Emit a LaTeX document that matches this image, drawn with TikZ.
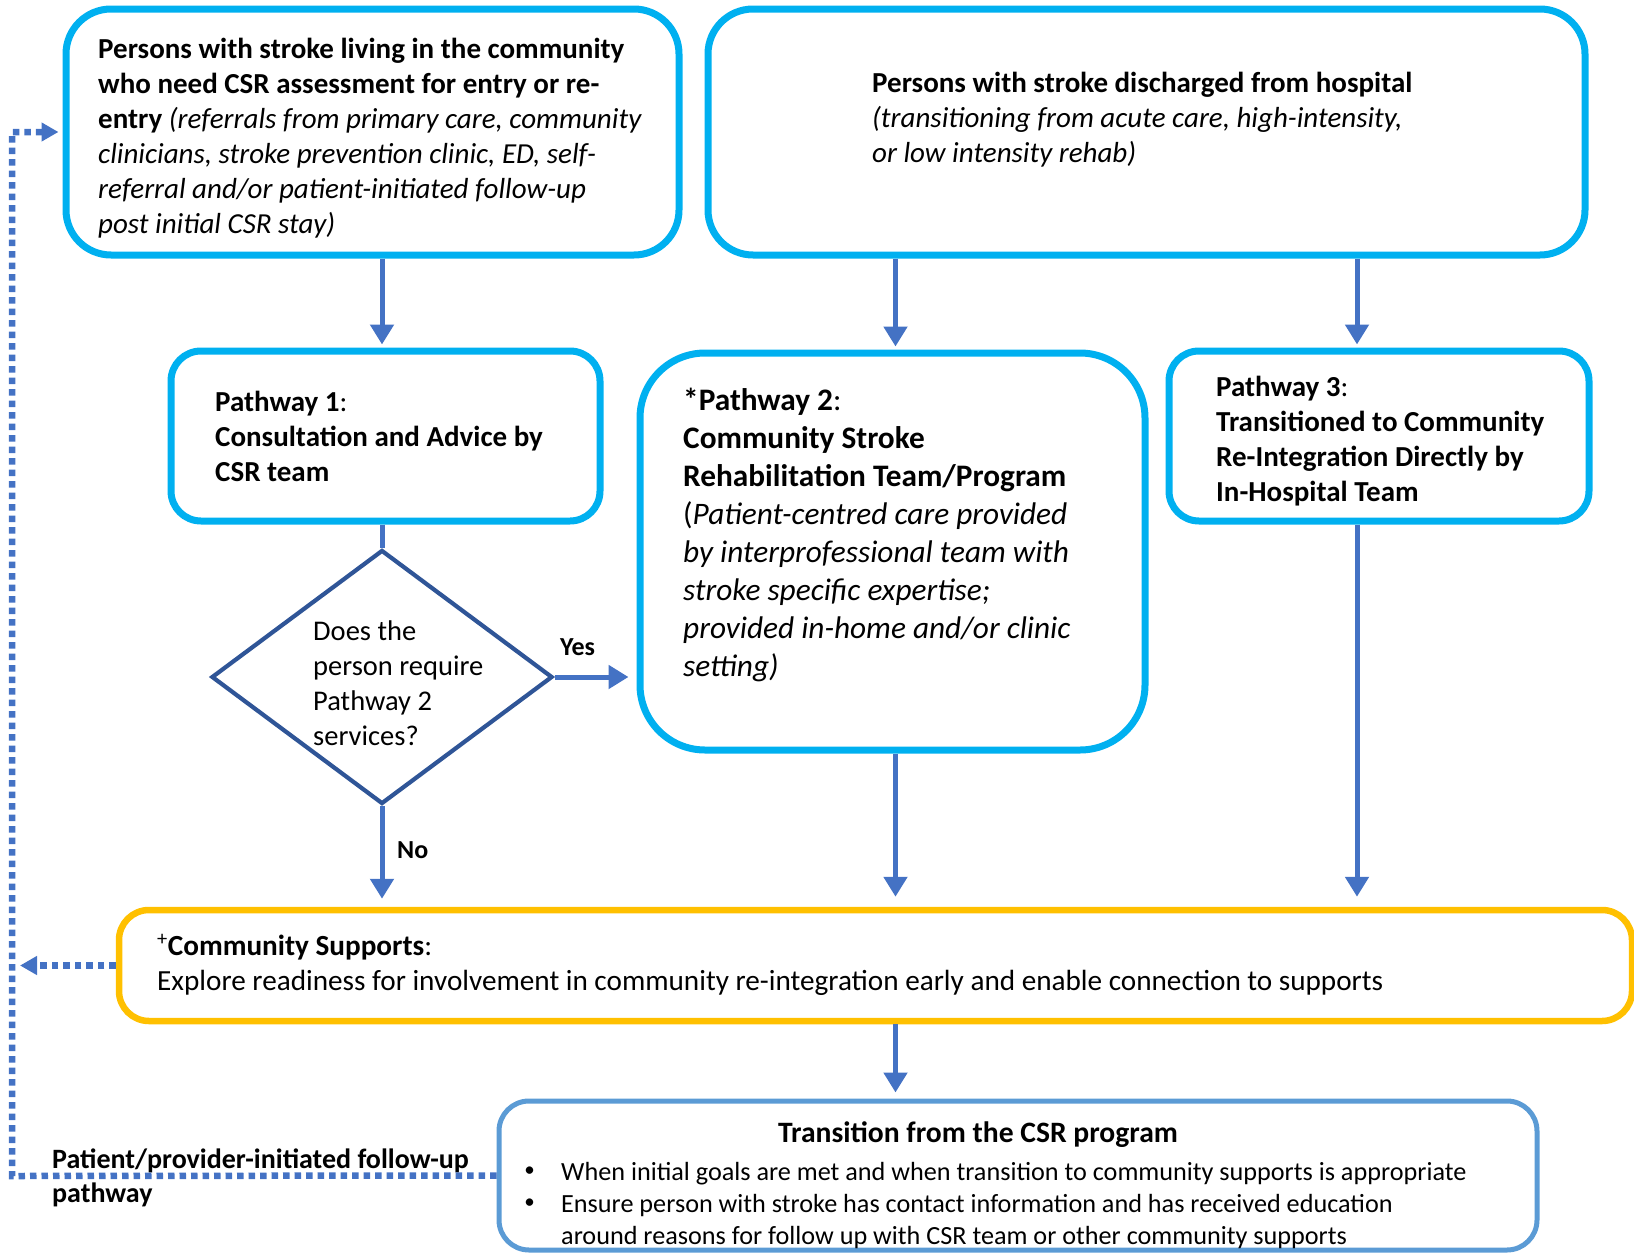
\documentclass[tikz,border=0pt]{standalone}
\usepackage{fontspec}
\setmainfont{Carlito}
\usetikzlibrary{arrows.meta,shapes.geometric}
\definecolor{cyanc}{HTML}{00B0F0}
\definecolor{yellc}{HTML}{FFC000}
\definecolor{trc}{HTML}{5B9BD5}
\definecolor{arrc}{HTML}{4472C4}
\definecolor{dmc}{HTML}{2F5597}
\newcommand{\myfs}[2]{\fontsize{#1}{#2}\selectfont}
\begin{document}
\begin{tikzpicture}[x=1pt,y=-1pt,
  cbox/.style={draw=cyanc, line width=7pt, inner sep=0pt},
  ybox/.style={draw=yellc, line width=6.5pt, inner sep=0pt},
  tbox/.style={draw=trc, line width=5pt, inner sep=0pt},
  arr/.style={draw=arrc, line width=5pt, -{Triangle[width=23pt,length=20pt]}},
  dotarr/.style={draw=arrc, line width=6.5pt, dash pattern=on 6.5pt off 5pt, -{Triangle[width=18pt,length=17pt]}},
  txt/.style={inner sep=0pt, align=left, anchor=base west, font=\myfs{29}{35}},
  lbl/.style={inner sep=0pt, anchor=base west, font=\myfs{26}{30}\bfseries}
]
\useasboundingbox (0,0) rectangle (1634,1253);
% boxes
\node[cbox, minimum width=613pt, minimum height=246pt, rounded corners=45pt] (A) at (372.5,132) {};
\node[cbox, minimum width=877pt, minimum height=246pt, rounded corners=45pt] (B) at (1146.5,132) {};
\node[cbox, minimum width=429pt, minimum height=170pt, rounded corners=30pt] (P1) at (385.5,436) {};
\node[cbox, minimum width=505pt, minimum height=397pt, rounded corners=65pt] (P2) at (892.5,551.5) {};
\node[cbox, minimum width=420pt, minimum height=170pt, rounded corners=30pt] (P3) at (1379,436) {};
\node[draw=dmc, line width=4.2pt, diamond, inner sep=0pt, minimum width=341pt, minimum height=254pt] (dm) at (382,677) {};
\node[ybox, minimum width=1513pt, minimum height=111pt, rounded corners=30pt] (CS) at (875.5,965.5) {};
\node[tbox, minimum width=1038pt, minimum height=149pt, rounded corners=30pt] (TR) at (1018,1175.5) {};
% texts (base anchor = last line baseline)
\node[txt] (tA) at (98,233) {\textbf{Persons with stroke living in the community}\\
\textbf{who need CSR assessment for entry or re-}\\
\textbf{entry} \textit{(referrals from primary care, community}\\
\textit{clinicians, stroke prevention clinic, ED, self-}\\
\textit{referral and/or patient-initiated follow-up}\\
\textit{post initial CSR stay)}};
\node[txt] (tB) at (872,162) {\textbf{Persons with stroke discharged from hospital}\\
\textit{(transitioning from acute care, high-intensity,}\\
\textit{or low intensity rehab)}};
\node[txt] (tP1) at (215,481) {\textbf{Pathway 1}:\\
\textbf{Consultation and Advice by}\\
\textbf{CSR team}};
\node[txt, font=\myfs{31.3}{38}] (tP2) at (683,676) {\textbf{*Pathway 2}:\\
\textbf{Community Stroke}\\
\textbf{Rehabilitation Team/Program}\\
(\textit{Patient-centred care provided}\\
\textit{by interprofessional team with}\\
\textit{stroke specific expertise;}\\
\textit{provided in-home and/or clinic}\\
\textit{setting)}};
\node[txt] (tP3) at (1216,501) {\textbf{Pathway 3}:\\
\textbf{Transitioned to Community}\\
\textbf{Re-Integration Directly by}\\
\textbf{In-Hospital Team}};
\node[txt, font=\myfs{28.5}{35}] (tdm) at (313,745) {Does the\\ person require\\ Pathway 2\\ services?};
\node[txt, font=\myfs{29.2}{35}] (tCS) at (157,990) {\textsuperscript{+}\textbf{Community Supports}:\\
Explore readiness for involvement in community re-integration early and enable connection to supports};
\node[inner sep=0pt, anchor=base, font=\myfs{29.6}{32}\bfseries] (tTR) at (978,1142) {Transition from the CSR program};
\node[inner sep=0pt, anchor=center, font=\myfs{21}{32}] (b1) at (529.5,1172) {\textbullet};
\node[inner sep=0pt, anchor=center, font=\myfs{21}{32}] (b2) at (529.5,1204) {\textbullet};
\node[txt, font=\myfs{26.2}{32}] (tTR2) at (561,1244) {When initial goals are met and when transition to community supports is appropriate\\
Ensure person with stroke has contact information and has received education\\
around reasons for follow up with CSR team or other community supports};
\node[txt, font=\myfs{28}{34}\bfseries] (tfu) at (52,1202) {Patient/provider-initiated follow-up\\pathway};
\node[lbl] (yes) at (560,655) {Yes};
\node[lbl] (no) at (397,858) {No};
% connectors
\coordinate (p3x) at ([xshift=-22pt]P3.north);
\coordinate (p2x) at ([xshift=3pt]P2.north);
\draw[arr, shorten >=3pt] (A.south -| dm.north) -- (P1.north -| dm.north);
\draw[arr, shorten >=3pt] (B.south -| p2x) -- (p2x);
\draw[arr, shorten >=3pt] (B.south -| p3x) -- (p3x);
\draw[draw=arrc, line width=5pt] (P1.south -| dm.north) -- (dm.north);
\draw[arr, shorten >=8pt] (dm.east) -- (dm.east -| P2.west);
\draw[arr, shorten >=8pt] (dm.south) -- (dm.south |- CS.north);
\draw[arr, shorten >=10pt] (p2x |- P2.south) -- (p2x |- CS.north);
\draw[arr, shorten >=10pt] (p3x |- P3.south) -- (p3x |- CS.north);
\draw[arr, shorten >=6pt] (p2x |- CS.south) -- (p2x |- TR.north);
\coordinate (lc) at (12,1176);
\coordinate (uc) at (12,132);
\coordinate (cse) at (20,965.5);
\draw[dotarr, shorten >=4pt] (TR.west) -- (lc) -- (uc) -- (A.west);
\draw[dotarr] (CS.west) -- (cse);
\end{tikzpicture}
\end{document}
